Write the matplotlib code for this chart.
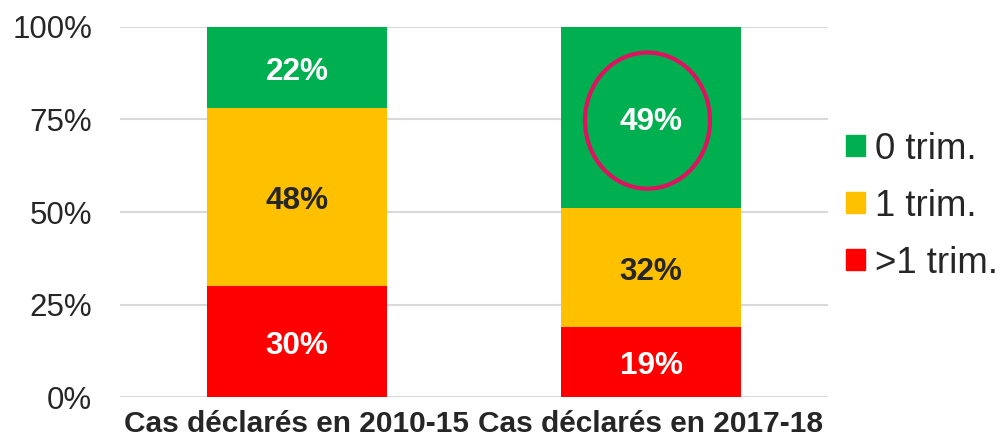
import numpy as np
import matplotlib
matplotlib.use("Agg")
import matplotlib.pyplot as plt
from matplotlib.patches import Ellipse, Patch

plt.rcParams["font.family"] = ["Liberation Sans", "DejaVu Sans"]

categories = ["Cas déclarés en 2010-15", "Cas déclarés en 2017-18"]
series_names = [">1 trim.", "1 trim.", "0 trim."]
values = {
    ">1 trim.": [30, 19],
    "1 trim.": [48, 32],
    "0 trim.": [22, 49],
}
colors = {">1 trim.": "#FF0000", "1 trim.": "#FFC000", "0 trim.": "#00B050"}
text_colors = {">1 trim.": "white", "1 trim.": "#262626", "0 trim.": "white"}
yticks = [0, 25, 50, 75, 100]

fig = plt.figure(figsize=(10.03, 4.44), dpi=100)
ax = fig.add_axes([120 / 1003, 47 / 444, 708 / 1003, 370 / 444])

x = np.arange(len(categories))
bottom = np.zeros(len(categories))
for name in series_names:
    v = np.array(values[name], dtype=float)
    ax.bar(x, v, 0.51, bottom=bottom, color=colors[name], zorder=2)
    for xi, b, vi in zip(x, bottom, v):
        ax.annotate(f"{vi:.0f}%", (xi, b + vi / 2), xytext=(0, -3),
                    textcoords="offset points", ha="center", va="center",
                    fontsize=22.7, fontweight="bold", color=text_colors[name],
                    zorder=3)
    bottom += v

# highlight ring around the 2017-18 "0 trim." share
top_start = values[">1 trim."][1] + values["1 trim."][1]
ax.add_patch(Ellipse((x[1] - 0.01, top_start + values["0 trim."][1] / 2 - 0.8),
                     0.353, 36.8, fill=False, edgecolor="#E0115F", lw=3, zorder=4))

ax.set_xlim(-0.5, 1.5)
ax.set_ylim(0, 100)
ax.set_yticks(yticks)
ax.set_yticklabels([f"{t}%" for t in yticks], fontsize=22.5, color="#262626")
ax.set_xticks(x)
ax.set_xticklabels(categories, fontsize=21.5, fontweight="bold", color="#262626")
ax.tick_params(length=0)
ax.tick_params(axis="y", pad=20)
ax.tick_params(axis="x", pad=9.5)
ax.grid(axis="y", color="#D9D9D9", lw=1.5, zorder=0)
for s in ax.spines.values():
    s.set_visible(False)

handles = [Patch(color=colors[n]) for n in ["0 trim.", "1 trim.", ">1 trim."]]
leg = ax.legend(handles, ["0 trim.", "1 trim.", ">1 trim."], loc="center left",
                bbox_to_anchor=(1.0, 0.516), frameon=False, fontsize=26.4,
                handlelength=0.52, handleheight=0.52, handletextpad=0.25,
                labelspacing=0.6, borderaxespad=0.5, borderpad=0.0)
for t in leg.get_texts():
    t.set_color("#262626")

fig.savefig("out.png", dpi=100)
